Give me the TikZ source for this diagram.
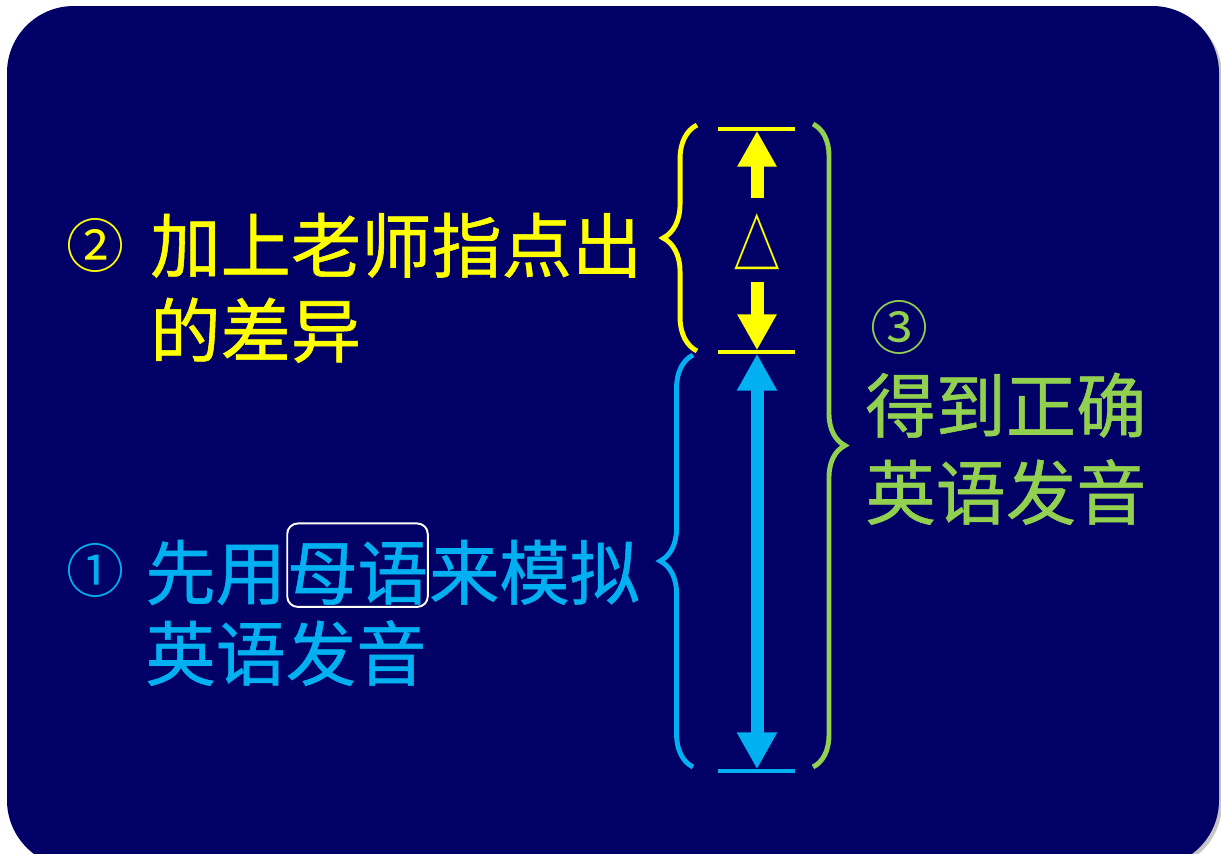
\documentclass[tikz,border=0pt]{standalone}
\usepackage{fontspec}
\newfontfamily\cjk[FakeBold=0.8]{Noto Sans CJK SC}
\newfontfamily\cjkthin{Noto Sans CJK SC}
\usetikzlibrary{arrows.meta,decorations.pathreplacing}

\definecolor{slidebg}{RGB}{0,0,102}
\definecolor{hiyellow}{RGB}{255,255,0}
\definecolor{skyblue}{RGB}{0,176,240}
\definecolor{leafgreen}{RGB}{146,208,80}

\begin{document}
\begin{tikzpicture}[x=0.02cm, y=-0.02cm,
	every node/.style={inner sep=0pt, font=\cjk\fontsize{40}{48}\selectfont},
	line/.style={anchor=base west},
	num/.style={font=\cjkthin\fontsize{33}{40}\selectfont},
	bar/.style={line width=2.3pt},
	brc/.style={decorate, line width=2.8pt, decoration={brace, amplitude=#1}},
	fat/.style={line width=7.4pt, arrows={-Triangle[length=20.4pt, width=21pt]}}]
	\useasboundingbox (0,0) rectangle (1221,853);
	\clip (0,0) rectangle (1221,853);

	% Slide
	\fill[gray!45, rounded corners=38pt] (10,9) rectangle (1222,870);
	\fill[slidebg, rounded corners=38pt] (7,6) rectangle (1219,867);

	% Marks on the scale
	\coordinate (top) at (757,129);
	\coordinate (mid) at (757,352);
	\coordinate (bot) at (757,771);
	\coordinate (yup) at (757,198);
	\coordinate (ydown) at (757,282);

	\draw[bar, hiyellow] (top) +(-39,0) -- +(38,0);
	\draw[bar, hiyellow] (mid) +(-39,0) -- +(38,0);
	\draw[bar, skyblue] (bot) +(-39,0) -- +(38,0);

	% Arrows
	\draw[fat, hiyellow, shorten >=1pt] (yup) -- (top);
	\draw[fat, hiyellow, shorten >=1pt] (ydown) -- (mid);
	\draw[fat, skyblue, arrows={Triangle[length=21pt, width=21.5pt]-Triangle[length=21pt, width=21.5pt]}, shorten <=1pt, shorten >=1pt] (mid) -- (bot);
	\node[hiyellow, font=\cjkthin\fontsize{27}{32}\selectfont, yscale=1.45] (delta) at (757,242) {△};

	% Braces
	\draw[brc=19.3pt, hiyellow] (697,351) -- (697,125);
	\draw[brc=18.7pt, skyblue] (693,767) -- (693,355);
	\draw[brc=18.2pt, leafgreen] (813,124) -- (813,767);

	% Step 2
	\node[num, hiyellow] (two) at (95,245) {②};
	\node[line, hiyellow] (l21) at (150,272) {加上老师指点出};
	\node[line, hiyellow] (l22) at (150,357) {的差异};

	% Step 1
	\node[num, skyblue] (one) at (95,570) {①};
	\node[line, skyblue] (l11) at (145,599) {先用};
	\node[line, skyblue, draw=white, line width=1.1pt, rounded corners=6pt, text height=43pt, text depth=4.5pt] (mother) at (l11.base east) {母语};
	\node[line, skyblue] (l12) at (mother.base east) {来模拟};
	\node[line, skyblue] (l13) at (145,680) {英语发音};

	% Step 3
	\node[num, leafgreen] (three) at (899,327) {③};
	\node[line, leafgreen] (l31) at (865,432) {得到正确};
	\node[line, leafgreen] (l32) at (865,519) {英语发音};
\end{tikzpicture}
\end{document}
